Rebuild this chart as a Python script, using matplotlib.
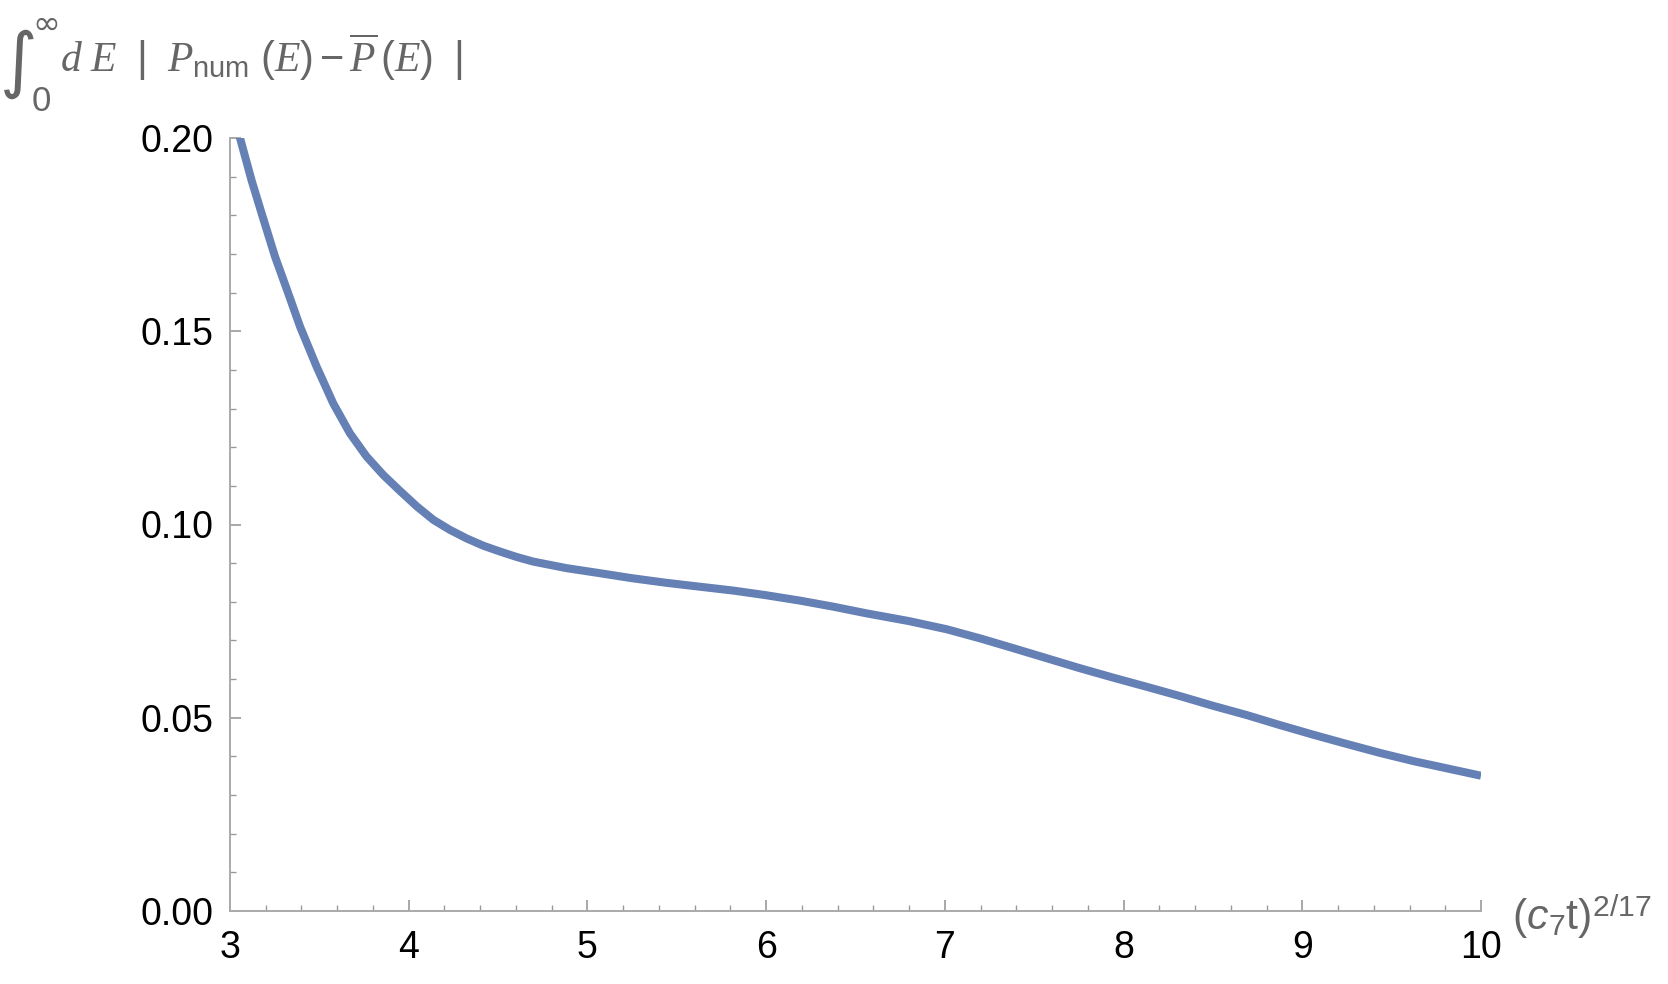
import matplotlib
matplotlib.use("Agg")
import matplotlib.pyplot as plt
from matplotlib.ticker import MultipleLocator, FormatStrFormatter

# values
x_vals = [3.0, 3.056, 3.121, 3.177, 3.252, 3.326, 3.392, 3.485, 3.578, 3.671, 3.764,
          3.858, 3.951, 4.045, 4.138, 4.231, 4.324, 4.418, 4.511, 4.604, 4.697, 4.884,
          5.07, 5.25, 5.444, 5.63, 5.817, 6.0, 6.19, 6.38, 6.563, 6.8, 7.01, 7.2,
          7.383, 7.57, 7.757, 7.94, 8.13, 8.316, 8.5, 8.689, 8.875, 9.062, 9.25,
          9.435, 9.62, 9.81, 10.0]
y_vals = [0.2105, 0.200, 0.189, 0.1805, 0.1693, 0.1598, 0.1512, 0.1408, 0.1313, 0.1236, 0.1176,
          0.1128, 0.1087, 0.1047, 0.1012, 0.0986, 0.0964, 0.0945, 0.0930, 0.0916, 0.0904, 0.0887,
          0.0874, 0.0861, 0.0849, 0.0839, 0.0829, 0.0817, 0.0803, 0.0787, 0.0770, 0.0750, 0.0729, 0.0705,
          0.0680, 0.0654, 0.0628, 0.0604, 0.0580, 0.0556, 0.0531, 0.0507, 0.0481, 0.0456, 0.0432,
          0.0409, 0.0388, 0.0369, 0.0350]
x_ticks = [3, 4, 5, 6, 7, 8, 9, 10]
y_ticks = [0.00, 0.05, 0.10, 0.15, 0.20]

plt.rcParams['font.family'] = ['Liberation Sans', 'DejaVu Sans']
plt.rcParams['mathtext.fontset'] = 'custom'
plt.rcParams['mathtext.rm'] = 'Liberation Sans'
plt.rcParams['mathtext.it'] = 'Liberation Serif:italic'
plt.rcParams['mathtext.sf'] = 'Liberation Sans:italic'

fig = plt.figure(figsize=(16.68, 9.84), dpi=100)
ax = fig.add_axes([230 / 1668, 73 / 984, 1251 / 1668, 773 / 984])

ax.plot(x_vals, y_vals, color='#6580b5', lw=5.8, solid_capstyle='butt')

ax.set_xlim(3, 10)
ax.set_ylim(0, 0.2)
ax.set_xticks(x_ticks)
ax.set_yticks(y_ticks)
ax.xaxis.set_minor_locator(MultipleLocator(0.2))
ax.yaxis.set_minor_locator(MultipleLocator(0.01))
ax.yaxis.set_major_formatter(FormatStrFormatter('%.2f'))

for s in ['top', 'right']:
    ax.spines[s].set_visible(False)
for s in ['left', 'bottom']:
    ax.spines[s].set_color('#aaaaaa')
    ax.spines[s].set_linewidth(1.4)

ax.tick_params(which='major', direction='in', length=8, width=1.2, color='#999999',
               labelsize=27, labelcolor='black')
ax.tick_params(which='minor', direction='in', length=4.5, width=1.0, color='#999999')
ax.tick_params(axis='x', pad=14)
ax.tick_params(axis='y', pad=12)

# y label: big integral sign with limits, then the integrand
grey = '#666666'
fig.text(0.0, 1 - 64 / 984, '\u222b', fontsize=52, family='DejaVu Sans',
         color=grey, ha='left', va='center')
fig.text(32 / 1668, 1 - 24 / 984, '\u221e', fontsize=24, family='DejaVu Sans',
         color=grey, ha='left', va='center')
fig.text(32 / 1668, 1 - 111 / 984, '0', fontsize=25, color=grey, ha='left', va='baseline')
fig.text(60 / 1668, 1 - 72 / 984,
         r'$d\ E\ \ |\ \ P_{\mathrm{num}}\ (E) - \overline{P}\,(E)\ \ |$',
         fontsize=30, color=grey, ha='left', va='baseline')

fig.text(1512 / 1668, 1 - 930 / 984, r'$(\mathsf{c}_{7}\mathrm{t})^{2/17}$',
         fontsize=31, color=grey, ha='left', va='baseline')

plt.savefig('out.png', dpi=100)
